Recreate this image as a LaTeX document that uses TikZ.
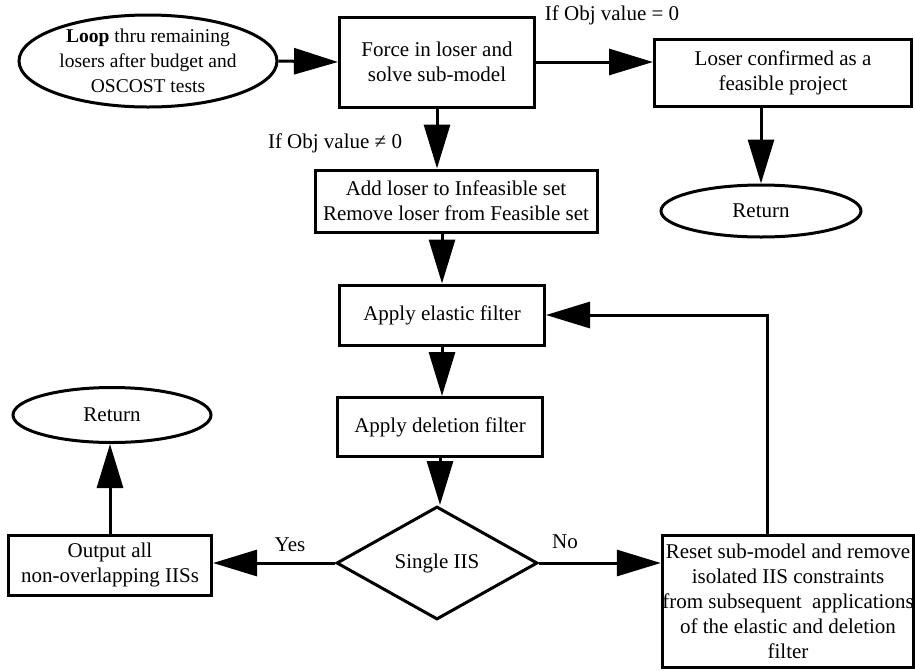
\documentclass[tikz,border=0pt]{standalone}
\usepackage{fontspec}
\setmainfont{Liberation Serif}
\usetikzlibrary{shapes.geometric,arrows.meta}

\begin{document}
\begin{tikzpicture}[
    x = 1pt, y = -1pt,
    every node/.style = {font = \fontsize{21}{25}\selectfont},
    box/.style = {draw, line width = 3pt, align = center, inner sep = 0pt},
    oval/.style = {draw, ellipse, line width = 3pt, align = center, inner sep = -6pt},
    decision/.style = {draw, diamond, line width = 3pt, inner sep = 0pt},
    flow/.style = {line width = 3pt, -{Triangle[length = 44pt, width = 26pt]}}]

\useasboundingbox (0,0) rectangle (915,670);

\path (148,61) node[oval, minimum width = 258pt, minimum height = 92pt,
                    font = \fontsize{19.5}{25}\selectfont] (loop)
        {\textbf{Loop} thru remaining\\ losers after budget and\\ OSCOST tests}
      (437,62) node[box, minimum width = 195pt, minimum height = 90pt] (force)
        {Force in loser and\\ solve sub-model}
      (783,73) node[box, minimum width = 257pt, minimum height = 67pt] (loser)
        {Loser confirmed as a\\ feasible project}
      (761,211) node[oval, minimum width = 200pt, minimum height = 52pt] (ret1) {Return}
      (456,201) node[box, minimum width = 282pt, minimum height = 62pt] (add)
        {Add loser to Infeasible set\\ Remove loser from Feasible set}
      (442,315) node[box, minimum width = 205pt, minimum height = 60pt] (elastic)
        {Apply elastic filter}
      (440,427) node[box, minimum width = 205pt, minimum height = 59pt] (deletion)
        {Apply deletion filter}
      (437,563) node[decision, minimum width = 201pt, minimum height = 113pt] (single)
        {Single IIS}
      (110,565) node[box, minimum width = 203pt, minimum height = 60pt] (output)
        {Output all\\ non-overlapping IISs}
      (112,415) node[oval, minimum width = 198pt, minimum height = 55pt] (ret2) {Return}
      (788,601) node[box, minimum width = 250pt, minimum height = 132pt] (reset)
        {Reset sub-model and remove\\ isolated IIS constraints\\ from subsequent\ \ applications\\
         of the elastic and deletion\\ filter};

\path (335,143) node (neq) {If Obj value ≠ 0}
      (612,15) node (eq) {If Obj value = 0}
      (290,545) node (yes) {Yes}
      (565,542) node (no) {No};

\draw[flow] (loop.east) -- (force.west);
\draw[flow] (force.south) -- (force.south |- add.north);
\draw[flow] (force.east) -- (force.east -| loser.west);
\draw[flow] (loser.south -| ret1.north) -- (ret1.north);
\draw[flow] (elastic.north |- add.south) -- (elastic.north);
\draw[flow] (elastic.south) -- (elastic.south |- deletion.north);
\draw[flow] (deletion.south) -- (deletion.south |- single.north);
\draw[flow] (single.west) -- (single.west -| output.east);
\draw[flow] (output.north) -- (output.north |- ret2.south);
\draw[flow] (single.east) -- (single.east -| reset.west);
\draw[flow] ([xshift = -21pt]reset.north) |- (elastic.east);
\end{tikzpicture}
\end{document}
